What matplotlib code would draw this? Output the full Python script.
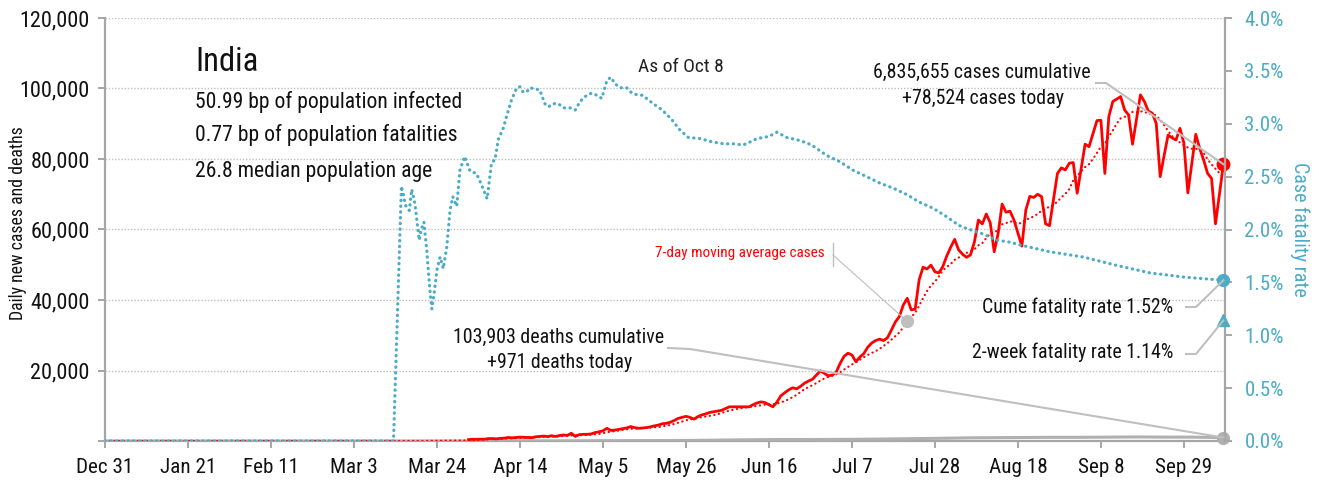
import numpy as np
import pandas as pd
import matplotlib
matplotlib.use('Agg')
import matplotlib.pyplot as plt
from matplotlib.lines import Line2D
from matplotlib import font_manager as fm

# ---------------- data ----------------
tick_days = [0, 21, 42, 63, 84, 105, 126, 147, 168, 189, 210, 231, 252, 273]
tick_labels = ['Dec 31', 'Jan 21', 'Feb 11', 'Mar 3', 'Mar 24', 'Apr 14', 'May 5',
               'May 26', 'Jun 16', 'Jul 7', 'Jul 28', 'Aug 18', 'Sep 8', 'Sep 29']

cases_zero_days = 60
cases_from_60 = [
    0, 0, 1, 2, 1, 22, 2, 1, 3, 5,
    9, 13, 6, 11, 10, 6, 12, 16, 24, 44,
    55, 72, 80, 87, 90, 75, 103, 59, 131, 129,
    160, 146, 400, 500, 480, 520, 510, 690, 700, 600,
    750, 800, 1000, 900, 1000, 1100, 1050, 1000, 950, 1200,
    1300, 1400, 1250, 1500, 1300, 1550, 1700, 1600, 2200, 1300,
    1800, 1900, 1900, 2000, 2400, 2600, 2900, 3600, 3000, 3100,
    3300, 3500, 3700, 4100, 3800, 3600, 3700, 3800, 4000, 4300,
    4500, 4900, 5000, 5300, 5800, 6400, 6700, 7000, 6700, 6200,
    6900, 7400, 7700, 8100, 8300, 8500, 8700, 9200, 9700, 9700,
    9700, 9700, 9700, 9700, 10300, 10800, 11100, 10900, 10300, 9700,
    11000, 12800, 13700, 14500, 15100, 14800, 15500, 16400, 17000, 17500,
    18700, 19900, 19200, 18500, 18700, 19500, 22000, 24000, 24900, 24400,
    22500, 23800, 24800, 26600, 27800, 28500, 28900, 28500, 29300, 31500,
    33800, 35300, 38600, 40500, 37200, 37400, 45700, 49300, 48800, 49900,
    48000, 47700, 49500, 52500, 55000, 57200, 54200, 53000, 52100, 52800,
    56500, 62700, 61600, 64400, 61900, 53700, 58900, 67200, 64900, 65200,
    62700, 59000, 55300, 65500, 69400, 69100, 70000, 69300, 61600, 61100,
    68500, 75900, 77500, 76900, 78800, 79000, 70300, 77200, 84200, 83500,
    87200, 90900, 91000, 75900, 92000, 96300, 97000, 97700, 93900, 92500,
    84200, 91200, 98200, 96300, 93600, 93000, 90100, 75000, 81000, 86800,
    86000, 85400, 88700, 84500, 70400, 78700, 87000, 83000, 79700, 75900,
    74500, 61600, 70100, 78524,
]
solid_start_day = 92
ma_marker_day = 203

death_days = [0, 72, 79, 86, 93, 100, 107, 114, 121, 128, 135, 142, 149, 156, 163, 170,
              177, 184, 191, 198, 205, 212, 219, 226, 233, 240, 247, 254, 261, 268, 275, 282, 283]
death_vals = [0, 1, 2, 5, 15, 30, 35, 45, 70, 100, 120, 140, 170, 270, 350, 420,
              410, 450, 500, 580, 680, 780, 900, 950, 1000, 1050, 1050, 1100, 1150, 1100, 1100, 980, 971]

cfr_days = [0, 73, 74, 75, 75.5, 76, 77, 77.6, 78.4, 79, 79.5, 80, 80.7, 81.4, 82.2, 82.7, 83.3,
            84, 84.8, 85.6, 86.5, 87.3, 88, 89, 89.8, 91, 92.4, 94, 95.3, 96.7, 97.8, 98.7,
            99.5, 100.8, 101.6, 102.9, 104.2, 105, 105.8, 106.7, 107.5, 108.8, 110, 111.3,
            112.2, 113.4, 114.7, 116, 117.7, 119, 120.2, 121.9, 123.2, 124.4, 125.7, 127, 128,
            129, 130.3, 132, 133.3, 135, 136, 138.7, 141, 143.4, 145.5, 147.6, 150.6, 153.5,
            156.5, 159, 161.5, 162.8, 165, 168, 170, 172.5, 176, 178.8, 182.6, 186, 189.3,
            192.7, 196, 199.5, 202.9, 206, 209.6, 213, 216, 218, 222, 225.6, 229, 232, 239,
            247.5, 256, 264.4, 273, 283]
cfr_vals = [0, 0, 1.2, 2.41, 2.33, 2.23, 2.18, 2.38, 2.25, 2.06, 1.90, 2.0, 2.07, 1.81, 1.43, 1.25, 1.40,
            1.62, 1.74, 1.63, 1.84, 2.18, 2.31, 2.22, 2.56, 2.69, 2.55, 2.53, 2.42, 2.29, 2.63, 2.66,
            2.85, 2.96, 3.07, 3.23, 3.34, 3.35, 3.30, 3.30, 3.34, 3.33, 3.32, 3.19,
            3.16, 3.19, 3.19, 3.15, 3.15, 3.13, 3.21, 3.27, 3.29, 3.27, 3.24, 3.41, 3.44,
            3.38, 3.34, 3.34, 3.29, 3.27, 3.27, 3.19, 3.13, 3.04, 2.94, 2.87, 2.86, 2.83,
            2.81, 2.81, 2.80, 2.82, 2.86, 2.88, 2.92, 2.87, 2.84, 2.80, 2.70, 2.64, 2.56,
            2.50, 2.44, 2.39, 2.33, 2.26, 2.20, 2.12, 2.04, 2.01, 1.96, 1.90, 1.88, 1.85, 1.79,
            1.74, 1.66, 1.59, 1.55, 1.52]
two_week_cfr = 1.14

title = 'India'
info_lines = ['50.99 bp of population infected', '0.77 bp of population fatalities',
              '26.8 median population age']
asof = 'As of Oct 8'
cases_note = ['6,835,655 cases cumulative', '+78,524 cases today']
deaths_note = ['103,903 deaths cumulative', '+971 deaths today']
ma_note = '7-day moving average cases'
cume_note = 'Cume fatality rate 1.52%'
twoweek_note = '2-week fatality rate 1.14%'

# ---------------- font: prefer a condensed sans ----------------
def _stretch_num(s):
    table = {'ultra-condensed': 100, 'extra-condensed': 200, 'condensed': 300,
             'semi-condensed': 400, 'normal': 500, 'semi-expanded': 600,
             'expanded': 700, 'extra-expanded': 800, 'ultra-expanded': 900}
    if isinstance(s, (int, float)):
        return int(s)
    return table.get(str(s), 500)

def _weight_num(w):
    table = {'ultralight': 100, 'light': 300, 'normal': 400, 'regular': 400, 'book': 400,
             'medium': 500, 'semibold': 600, 'demibold': 600, 'bold': 700, 'heavy': 800,
             'black': 900}
    if isinstance(w, (int, float)):
        return int(w)
    return table.get(str(w), 400)

pref = ['Liberation Sans Narrow', 'Roboto Condensed', 'Open Sans Condensed',
        'Noto Sans Condensed', 'DejaVu Sans Condensed', 'DejaVu Sans', 'Noto Sans', 'Open Sans',
        'Roboto', 'Lato', 'Inter']
best = None
for f in fm.fontManager.ttflist:
    if f.style != 'normal':
        continue
    wn = _weight_num(f.weight)
    if wn < 350 or wn > 450:
        continue
    sn = _stretch_num(f.stretch)
    narrow_name = ('Narrow' in f.name) or ('Condensed' in f.name) or ('Condensed' in f.fname)
    if sn >= 500 and not narrow_name:
        continue
    rank = pref.index(f.name) if f.name in pref else len(pref)
    key = (rank, sn)
    if best is None or key < best[0]:
        best = (key, f)

if best is not None:
    FP = dict(fname=best[1].fname)
    SC = 1.0
else:
    FP = dict(family='Liberation Sans')
    SC = 0.82

def font(size):
    return fm.FontProperties(size=size * SC, **FP)

RED = '#ff0000'
TEAL = '#4bacc6'
GREY = '#bfbfbf'
SPINE = '#a6a6a6'
INK = '#111111'

W, H = 1319, 482
fig = plt.figure(figsize=(W / 100, H / 100), dpi=100)
fig.patch.set_facecolor('white')

def fx(x):
    return x / W

def fy(y):
    return 1 - y / H

ax = fig.add_axes([fx(105), fy(441), (1225 - 105) / W, (441 - 18) / H])
ax2 = ax.twinx()

days = np.arange(cases_zero_days + len(cases_from_60))
cases = pd.Series([0] * cases_zero_days + cases_from_60, index=days, dtype=float)
ma7 = cases.rolling(7, min_periods=1).mean()
last = days[-1]

ax.set_ylim(0, 120000)
ax.set_xlim(0, 283.4)
ax.set_yticks(np.arange(0, 120001, 20000))
ax.yaxis.grid(True, linestyle=(0, (1, 1.3)), color=GREY, lw=1.0)
ax.set_axisbelow(True)

ax.plot(death_days, death_vals, color='#b0b0b0', lw=2.2, solid_capstyle='round', zorder=3)
ax.plot(days, ma7.values, color=RED, lw=1.6, linestyle=(0, (0.1, 2.0)),
        dash_capstyle='round', zorder=4)
sel = days >= solid_start_day
ax.plot(days[sel], cases.values[sel], color=RED, lw=2.0, zorder=5, solid_joinstyle='round')
ax.plot([last], [cases.values[-1]], 'o', color=RED, ms=9, zorder=6, clip_on=False)
ax.plot([death_days[-1]], [death_vals[-1]], 'o', color='#b0b0b0', ms=8.5, zorder=6, clip_on=False)
ax.plot([ma_marker_day], [ma7[ma_marker_day]], 'o', color=GREY, ms=8.5, zorder=6)

ax2.set_ylim(0, 4.0)
ax2.plot(cfr_days, cfr_vals, color=TEAL, lw=2.3, linestyle=(0, (0.1, 1.7)),
         dash_capstyle='round', zorder=4)
ax2.plot([cfr_days[-1]], [cfr_vals[-1]], 'o', color=TEAL, ms=8.5, clip_on=False, zorder=6)
ax2.plot([last], [two_week_cfr], '^', color=TEAL, ms=9, clip_on=False, zorder=6)

for a in (ax, ax2):
    a.spines['top'].set_visible(False)
    for s in ('left', 'right', 'bottom'):
        a.spines[s].set_color(SPINE)
        a.spines[s].set_linewidth(1.6)
ax.spines['right'].set_visible(False)
ax2.spines['left'].set_visible(False)
ax2.spines['bottom'].set_visible(False)

ax.set_xticks(tick_days)
ax.set_xticklabels(tick_labels, fontproperties=font(15.2))
ax.set_yticklabels(['' if v == 0 else f'{int(v):,}' for v in ax.get_yticks()],
                   fontproperties=font(16))
ax.tick_params(axis='both', colors=SPINE, labelcolor=INK, length=5, width=1.4)
ax.tick_params(axis='x', pad=7)
ax.tick_params(axis='y', pad=6)
ax2.set_yticks(np.arange(0, 4.01, 0.5))
ax2.set_yticklabels([f'{v:.1f}%' for v in np.arange(0, 4.01, 0.5)], fontproperties=font(15))
ax2.tick_params(axis='y', colors=SPINE, labelcolor=TEAL, length=5, width=1.4, pad=9)

fig.text(fx(18), fy(223), 'Daily new cases and deaths', fontproperties=font(12.8),
         rotation=90, va='center', ha='center', color=INK)
fig.text(fx(1300), fy(229), 'Case fatality rate', fontproperties=font(14.4),
         rotation=270, va='center', ha='center', color=TEAL)

fig.text(fx(195), fy(62), title, fontproperties=font(23.5), va='center', ha='left', color=INK)
for yy, line in zip([102, 135, 171], info_lines):
    fig.text(fx(195), fy(yy), line, fontproperties=font(15.6), va='center', ha='left', color=INK)
fig.text(fx(681), fy(67), asof, fontproperties=font(14), va='center', ha='center', color='#222222')
NOTE = 14.3
fig.text(fx(982), fy(72), cases_note[0], fontproperties=font(NOTE), va='center', ha='center', color=INK)
fig.text(fx(983), fy(98), cases_note[1], fontproperties=font(NOTE), va='center', ha='center', color=INK)
fig.text(fx(559), fy(337), deaths_note[0], fontproperties=font(NOTE), va='center', ha='center', color=INK)
fig.text(fx(560), fy(362), deaths_note[1], fontproperties=font(NOTE), va='center', ha='center', color=INK)
fig.text(fx(825), fy(253), ma_note, fontproperties=font(11), va='center', ha='right', color=RED)
fig.text(fx(1173), fy(307), cume_note, fontproperties=font(NOTE), va='center', ha='right', color=INK)
fig.text(fx(1173), fy(352), twoweek_note, fontproperties=font(NOTE), va='center', ha='right', color=INK)

def leader(points_px, target_axes, target_xy, lw=1.5, color=GREY):
    pts = [(fx(x), fy(y)) for x, y in points_px]
    xs = [p[0] for p in pts]
    ys = [p[1] for p in pts]
    tx, ty = fig.transFigure.inverted().transform(
        target_axes.transData.transform(target_xy))
    xs.append(tx)
    ys.append(ty)
    fig.add_artist(Line2D(xs, ys, transform=fig.transFigure, color=color, lw=lw, zorder=2))

leader([(1096, 83), (1106, 83)], ax, (last, cases.values[-1]))
leader([(668, 348), (690, 349)], ax, (death_days[-1], death_vals[-1]))
leader([(1186, 307), (1196, 307)], ax2, (cfr_days[-1], cfr_vals[-1]))
leader([(1186, 354), (1196, 354)], ax2, (last, two_week_cfr))
leader([(833, 255)], ax, (ma_marker_day, ma7[ma_marker_day]), lw=0.8)
fig.add_artist(Line2D([fx(833), fx(833)], [fy(243), fy(266)], transform=fig.transFigure,
                      color=GREY, lw=1.0))

fig.savefig('out.png', dpi=100, facecolor='white')
